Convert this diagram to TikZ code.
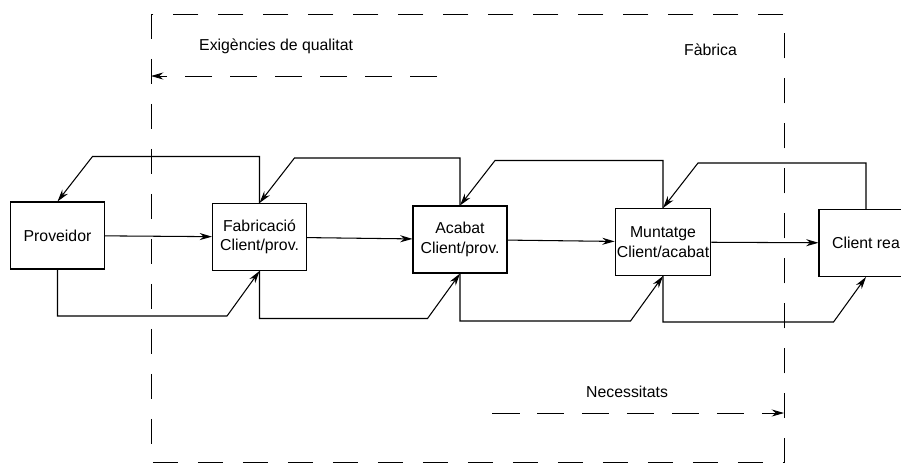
\documentclass[tikz,border=0pt]{standalone}
\usepackage{fontspec}
\setmainfont{Liberation Sans}
\usetikzlibrary{calc,arrows.meta,positioning}

\begin{document}
\begin{tikzpicture}[x=0.02cm, y=-0.02cm,
    font=\fontsize{9}{11}\selectfont,
    box/.style={draw, line width=0.6pt, minimum width=1.88cm, minimum height=1.34cm, inner sep=1pt, align=center},
    flow/.style={line width=0.6pt, -{Stealth[length=7pt,width=4pt]}},
    frame/.style={line width=0.45pt, dash pattern=on 0.5cm off 0.4cm},
    msg/.style={line width=0.45pt, dash pattern=on 0.55cm off 0.35cm, -{Stealth[length=7pt,width=4pt]}}]
    \useasboundingbox (0,0) rectangle (901,464);
    \clip (0,0) rectangle (901,464);
    \draw [frame] (151,14) rectangle (784,462);
    \node [anchor=west] (exig) at (193,46) {Exigències de qualitat};
    \node [anchor=west] (fabrica) at (678,50) {Fàbrica};
    \node [anchor=west] (necess) at (580,392) {Necessitats};
    \coordinate (exigA) at (437,76);
    \coordinate (exigB) at (151,76);
    \coordinate (necA) at (492,413);
    \coordinate (necB) at (784,413);
    \draw [msg] (exigA) -- (exigB);
    \draw [msg] (necA) -- (necB);
    \node [box] (prov) at (57.5,235.5) {Proveidor};
    \node [box] (fab) at (259.5,237) {Fabricació\\Client/prov.};
    \node [box] (acab) at (460,239.5) {Acabat\\Client/prov.};
    \node [box] (munt) at (663,242) {Muntatge\\Client/acabat};
    \node [box] (client) at (866,243) {Client rea};
    \draw [flow] (prov) -- (fab);
    \draw [flow] (fab) -- (acab);
    \draw [flow] (acab) -- (munt);
    \draw [flow] (munt) -- (client);
    \foreach \s/\t in {fab/prov, acab/fab, munt/acab, client/munt}
      \draw [flow] (\s.north) |- ([xshift=0.7cm, yshift=0.9cm]\t.north) -- (\t.north);
    \foreach \s/\t in {prov/fab, fab/acab, acab/munt, munt/client}
      \draw [flow] (\s.south) |- ([xshift=-0.65cm, yshift=-0.9cm]\t.south) -- (\t.south);
  \end{tikzpicture}
\end{document}
